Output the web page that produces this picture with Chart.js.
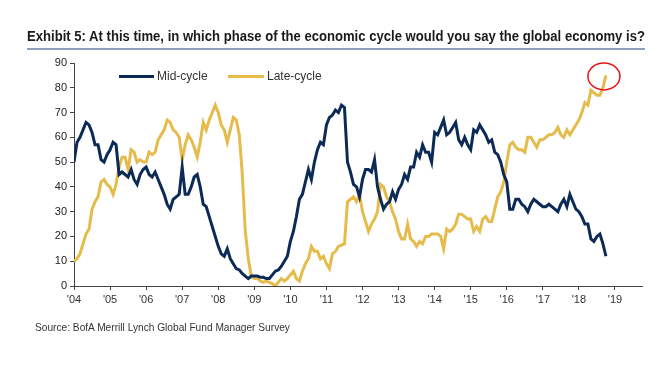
<!DOCTYPE html>
<html>
<head>
<meta charset="utf-8">
<script src="https://cdn.jsdelivr.net/npm/chart.js@4.4.0/dist/chart.umd.min.js"></script>
<style>
  html, body { margin: 0; padding: 0; background: #fff; }
  #wrap { position: relative; width: 669px; height: 370px; overflow: hidden; font-family: "Liberation Sans", Arial, sans-serif; }
  #title { position: absolute; left: 27px; top: 27px; font-size: 15px; font-weight: bold; color: #1a1a1a; white-space: nowrap; transform-origin: 0 0; }
  #rule { position: absolute; left: 27px; top: 48px; width: 618px; height: 2px; background: #8d9fbd; }
  #source { position: absolute; left: 35px; top: 321px; font-size: 11px; color: #333; white-space: nowrap; transform-origin: 0 0; }
  .leg { position: absolute; top: 69px; font-size: 12px; color: #333; white-space: nowrap; }
  .legline { position: absolute; top: 75px; height: 3px; }
  canvas { position: absolute; left: 0; top: 0; }
</style>
</head>
<body>
<div id="wrap">
  <canvas id="c" width="669" height="370"></canvas>
  <div id="title">Exhibit 5: At this time, in which phase of the economic cycle would you say the global economy is?</div>
  <div id="rule"></div>
  <div class="legline" style="left:119px;width:35px;background:#0c2a56"></div>
  <div class="leg" style="left:157px">Mid-cycle</div>
  <div class="legline" style="left:228px;width:36px;background:#e5bc4b"></div>
  <div class="leg" style="left:267px">Late-cycle</div>
  <div id="source">Source: BofA Merrill Lynch Global Fund Manager Survey</div>
</div>
<script>
// Monthly survey readings, Jan 2004 onward (% of respondents)
const startYear = 2004;
const yearTicks = [2004,2005,2006,2007,2008,2009,2010,2011,2012,2013,2014,2015,2016,2017,2018,2019];
const seriesNames = ["Mid-cycle", "Late-cycle"];
const midCycle = [
  50,58,60,63,66,65,62,57,57,51,50,53,
  55,58,57,45,46,45,44,47,43,41,45,47,
  48,45,44,46,43,40,37,33,31,35,36,37,
  48,37,37,40,44,45,40,33,32,28,24,20,
  16,13,12,15,11,9,7,6.5,5,4,3,4,
  4,4,3.5,3.5,3,3,4.5,6,6.5,8,10,12,
  18,22,28,35,37,42,47,43,50,55,58,57,
  65,68,69,71,70,73,72,50,46,41,40,36,
  43,47,47,46,51,40,35,31,33,34,38,35,
  39,41,45,43,48,48,54,52,57,54,54,50,
  62,61,64,67,61,62,64,66,59,57,60,57,
  55,63,62,65,63,61,58,59,54,53,50,45,
  42,31,31,35,35,33,32,30,33,35,34,33,
  32,32,33,32,31,30,33,35,32,37,34,31,
  30,28,25,25,19,18,20,21,17,12
];
const lateCycle = [
  10,11,13,17,21,23,31,34,36,42,43,41,
  40,37,41,48,52,52,47,55,54,50,51,50,
  50,54,53,54,59,61,63,67,66,63,62,60,
  51,57,61,59,56,52,58,66,63,67,70,73,
  70,65,63,58,63,68,67,61,45,22,11,4,
  3,3,2,1.5,2,1.5,1,0,1.5,3,2,3,
  4.5,6,3,2,6,9,11,16,14,14,11,12,
  9,7,13,14,16,16.5,17,34,35,36,34,37,
  30,26,22,25,27,30,41,40,36,34,30,27,
  22,19,19,25,19,18,16,18,17,20,20,21,
  21,21,20,15,23,22,23,25,29,29,28,27,
  27,22,24,22,27,28,26,26,31,36,38,42,
  50,57,58,56,55,55,54,60,60,58,56,59,
  59,60,61,61,62,64,61,60,63,61,63,65,
  67,70,74,73,79,78,77,77,80,85
];
const yTicks = [0,10,20,30,40,50,60,70,80,90];

// fit the narrow report fonts
function fit(id, w) {
  const el = document.getElementById(id);
  const s = w / el.offsetWidth;
  el.style.transform = 'scaleX(' + s + ')';
}
fit('title', 618);
fit('source', 255);

const toPts = arr => arr.map((v, i) => ({ x: startYear + i / 12, y: v }));

const circlePlugin = {
  id: 'circle',
  afterDatasetsDraw(chart) {
    const meta = chart.getDatasetMeta(1);
    const p = meta.data[meta.data.length - 1];
    const ctx = chart.ctx;
    ctx.save();
    ctx.beginPath();
    ctx.ellipse(p.x - 2, p.y + 1, 16, 13.5, 0, 0, Math.PI * 2);
    ctx.strokeStyle = '#e8141b';
    ctx.lineWidth = 1.5;
    ctx.stroke();
    ctx.restore();
  }
};

new Chart(document.getElementById('c'), {
  type: 'line',
  data: {
    datasets: [
      { label: seriesNames[0], data: toPts(midCycle), borderColor: '#0c2a56', borderWidth: 3, pointRadius: 0, tension: 0, fill: false },
      { label: seriesNames[1], data: toPts(lateCycle), borderColor: '#e5bc4b', borderWidth: 3, pointRadius: 0, tension: 0, fill: false }
    ]
  },
  options: {
    responsive: false,
    animation: false,
    devicePixelRatio: 1,
    layout: { padding: { left: 44, right: 27, top: 63, bottom: 54 } },
    plugins: { legend: { display: false }, tooltip: { enabled: false } },
    scales: {
      x: {
        type: 'linear',
        min: startYear,
        max: 2019.75,
        afterBuildTicks: s => { s.ticks = yearTicks.map(v => ({ value: v })); },
        afterFit: s => { s.height = 30; },
        ticks: {
          callback: v => "'" + String(v).slice(2),
          font: { family: '"Liberation Sans", Arial, sans-serif', size: 11 },
          color: '#333',
          padding: 3,
          maxRotation: 0,
          autoSkip: false
        },
        grid: { drawOnChartArea: false, drawTicks: true, tickLength: 4, color: '#444' },
        border: { display: true, color: '#444', width: 1 }
      },
      y: {
        min: 0,
        max: 90,
        afterBuildTicks: s => { s.ticks = yTicks.map(v => ({ value: v })); },
        afterFit: s => { s.width = 30; },
        ticks: {
          font: { family: '"Liberation Sans", Arial, sans-serif', size: 11 },
          color: '#222',
          padding: 3
        },
        grid: { drawOnChartArea: false, drawTicks: true, tickLength: 4, color: '#444' },
        border: { display: true, color: '#444', width: 1 }
      }
    }
  },
  plugins: [circlePlugin]
});
</script>
</body>
</html>
